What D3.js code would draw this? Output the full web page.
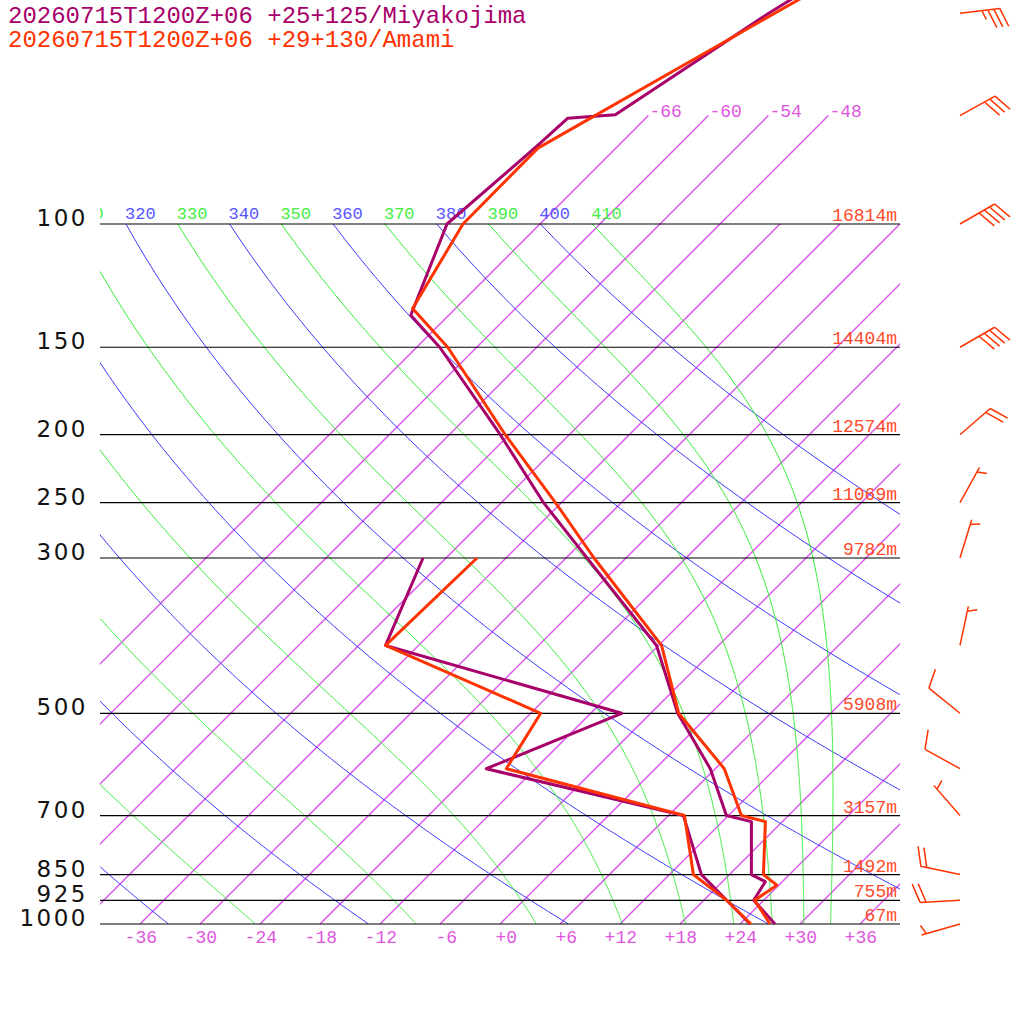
<!DOCTYPE html>
<html><head><meta charset="utf-8">
<script src="https://cdn.jsdelivr.net/npm/d3@7"></script>
<style>body{margin:0;background:#fff}svg{display:block}</style>
</head><body>
<svg id="c" width="1024" height="1024"></svg>
<script>
// ---------- data ----------
const titles = ["20260715T1200Z+06 +25+125/Miyakojima", "20260715T1200Z+06 +29+130/Amami"];
const pressureLevels = [1000, 925, 850, 700, 500, 300, 250, 200, 150, 100];
const pressureLabels = ["1000", "925", "850", "700", "500", "300", "250", "200", "150", "100"];
const heightLabels = ["67m", "755m", "1492m", "3157m", "5908m", "9782m", "11069m", "12574m", "14404m", "16814m"];
const isotherms = [-66, -60, -54, -48, -42, -36, -30, -24, -18, -12, -6, 0, 6, 12, 18, 24, 30, 36];
const upperIsotherms = [-66, -60, -54, -48];
const bottomTicks = [-36, -30, -24, -18, -12, -6, 0, 6, 12, 18, 24, 30, 36];
const dryThetas = [240, 260, 280, 300, 320, 340, 360, 380, 400];
const moistThetas = [250, 270, 290, 310, 330, 350, 370, 390, 410];

// Miyakojima (pressure hPa, temperature C)
const miyakoTemp = [[1000,27.5],[925,23.0],[870,22.3],[850,20.2],[714,14.9],[700,11.8],[600,5.5],[500,-3.3],[400,-12.2],[300,-27.9],[250,-37.8],[200,-48.9],[150,-63.7],[135,-69.8],[100,-75.3],[77.4,-74.1],[70.6,-73.8],[69.8,-69.4],[50,-64.2],[30,-54.6]];
const miyakoDew = [[1000,25.0],[925,20.3],[850,15.2],[700,7.5],[600,-16.9],[500,-8.9],[400,-39.3],[300,-44.3]];
// Amami
const amamiTemp = [[1000,27.0],[925,23.1],[880,23.8],[850,21.4],[714,16.3],[700,13.3],[600,6.9],[500,-3.2],[400,-11.7],[300,-27.2],[250,-36.6],[200,-48.4],[150,-62.9],[132,-70.3],[100,-73.7],[77.9,-73.8],[50,-63.6],[30,-51.8]];
const amamiDew = [[1000,25.1],[925,20.3],[850,14.4],[700,7.6],[600,-14.9],[500,-17.0],[400,-39.3],[300,-38.9]];
// Amami winds (pressure, direction deg, speed)
const windP = [50, 70, 100, 150, 200, 250, 300, 400, 500, 600, 700, 850, 925, 1000];
const windDir = [83, 61, 60, 60, 49, 29, 17, 12, 309, 299, 319, 282, 267, 254];
const windSpd = [35, 30, 40, 40, 20, 5, 5, 5, 10, 10, 5, 20, 20, 5];

// ---------- colours ----------
const C_MIY = "#a8006a", C_AMA = "#ff3300", C_ISO = "#dd55ee", C_ISO_TXT = "#e055e0";
const C_DRY = "#3a3aff", C_DRY_TXT = "#5555ff", C_MOIST = "#33ee33", C_MOIST_TXT = "#44ee44";
const C_HGT = "#ff4a2a";
const MONO = "'Liberation Mono','DejaVu Sans Mono',monospace";

// ---------- scales ----------
const svg = d3.select("#c");
const yS = d3.scaleLog().domain([1000, 100]).range([924, 224]);
const xT = d3.scaleLinear().domain([-40, 40]).range([100, 900]);
const skX = (T, p) => xT(T) + (yS(1000) - yS(p));
const lineGen = d3.line().x(d => skX(d[1], d[0])).y(d => yS(d[0]));

const defs = svg.append("defs");
defs.append("clipPath").attr("id", "plotclip").append("rect").attr("x", 100).attr("y", 224).attr("width", 800).attr("height", 700);
defs.append("clipPath").attr("id", "labclip").append("rect").attr("x", 100).attr("y", 0).attr("width", 924).attr("height", 1024);

// isotherms
const isoG = svg.append("g").attr("clip-path", "url(#plotclip)");
isoG.selectAll("line.iso").data(isotherms).join("line").attr("class", "iso")
  .attr("x1", T => skX(T, 1000)).attr("y1", yS(1000))
  .attr("x2", T => skX(T, 100)).attr("y2", yS(100))
  .attr("stroke", C_ISO).attr("stroke-width", 1.5);
const isoUpG = svg.append("g");
isoUpG.selectAll("line.isoup").data(upperIsotherms).join("line").attr("class", "isoup")
  .attr("x1", T => skX(T, 100)).attr("y1", yS(100))
  .attr("x2", T => skX(T, 70)).attr("y2", yS(70))
  .attr("stroke", C_ISO).attr("stroke-width", 1.5);
isoUpG.selectAll("text.isouptxt").data(upperIsotherms).join("text").attr("class", "isouptxt")
  .attr("x", T => skX(T, 70) + 1).attr("y", yS(70) + 1)
  .attr("font-family", MONO).attr("font-size", 18).attr("fill", C_ISO_TXT)
  .text(T => (T > 0 ? "+" : "") + T);

// adiabats
const K = 0.2857;
const pSamples = d3.range(100, 1001, 5);
function dryPts(th) { return pSamples.map(p => [p, th * Math.pow(p / 1000, K) - 273.15]); }
function dTdp(p, T) {
  const Rd = 287.04, Cp = 1004.6, Lv = 2.501e6, eps = 0.622;
  const es = 6.112 * Math.exp(17.67 * (T - 273.15) / (T - 29.65));
  const rs = eps * es / (p - es);
  return (Rd * T + Lv * rs) / (Cp + Lv * Lv * rs * eps / (Rd * T * T)) / p;
}
function moistPts(th) {
  let T = th * Math.pow(0.1, K), p = 100; const h = 2; const out = [[p, T - 273.15]];
  while (p < 1000 - 1e-9) {
    const k1 = dTdp(p, T), k2 = dTdp(p + h / 2, T + h / 2 * k1), k3 = dTdp(p + h / 2, T + h / 2 * k2), k4 = dTdp(p + h, T + h * k3);
    T += h / 6 * (k1 + 2 * k2 + 2 * k3 + k4); p += h; out.push([p, T - 273.15]);
  }
  return out;
}
const adG = svg.append("g").attr("clip-path", "url(#plotclip)");
adG.selectAll("path.dry").data(dryThetas).join("path").attr("class", "dry")
  .attr("d", th => lineGen(dryPts(th))).attr("fill", "none").attr("stroke", C_DRY).attr("stroke-width", 1);
adG.selectAll("path.moist").data(moistThetas).join("path").attr("class", "moist")
  .attr("d", th => lineGen(moistPts(th))).attr("fill", "none").attr("stroke", C_MOIST).attr("stroke-width", 1);

// adiabat labels (clipped at the left edge of the plot)
const labG = svg.append("g").attr("clip-path", "url(#labclip)");
const thetaLabels = dryThetas.map(t => ({t, c: C_DRY_TXT})).concat(moistThetas.map(t => ({t, c: C_MOIST_TXT})))
  .filter(d => skX(d.t * Math.pow(0.1, K) - 273.15, 100) > 60);
labG.selectAll("text.th").data(thetaLabels).join("text").attr("class", "th")
  .attr("x", d => skX(d.t * Math.pow(0.1, K) - 273.15, 100) - 1).attr("y", yS(100) - 5)
  .attr("font-family", MONO).attr("font-size", 17).attr("fill", d => d.c).text(d => d.t);

// isobars and labels
const isoB = svg.append("g");
isoB.selectAll("line.isobar").data(pressureLevels).join("line").attr("class", "isobar")
  .attr("x1", 100).attr("x2", 900).attr("y1", p => yS(p)).attr("y2", p => yS(p))
  .attr("stroke", "#000").attr("stroke-width", 1.2);
isoB.selectAll("text.plab").data(pressureLevels).join("text").attr("class", "plab")
  .attr("x", 88).attr("y", p => yS(p) + 2).attr("text-anchor", "end")
  .attr("font-family", "'DejaVu Sans',sans-serif").attr("font-size", 23).attr("letter-spacing", 2.5).attr("fill", "#111")
  .text((p, i) => pressureLabels[i]);
isoB.selectAll("text.hlab").data(pressureLevels).join("text").attr("class", "hlab")
  .attr("x", 897).attr("y", p => yS(p) - 3).attr("text-anchor", "end")
  .attr("font-family", MONO).attr("font-size", 18).attr("fill", C_HGT)
  .text((p, i) => heightLabels[i]);
isoB.selectAll("text.tlab").data(bottomTicks).join("text").attr("class", "tlab")
  .attr("x", T => xT(T) + 17).attr("y", 943).attr("text-anchor", "end")
  .attr("font-family", MONO).attr("font-size", 18).attr("fill", C_ISO_TXT)
  .text(T => (T >= 0 ? "+" : "") + T);

// profiles
const profG = svg.append("g");
function prof(data, col) {
  profG.append("path").attr("d", lineGen(data)).attr("fill", "none").attr("stroke", col)
    .attr("stroke-width", 3).attr("stroke-linejoin", "round");
}
prof(miyakoDew, C_MIY); prof(miyakoTemp, C_MIY);
prof(amamiDew, C_AMA); prof(amamiTemp, C_AMA);

// titles
svg.append("g").selectAll("text.title").data(titles).join("text").attr("class", "title")
  .attr("x", 8).attr("y", (d, i) => 23 + i * 24)
  .attr("font-family", MONO).attr("font-size", 24).attr("fill", (d, i) => i ? C_AMA : C_MIY).text(d => d);

// wind barbs
const wG = svg.append("g");
windP.forEach((p, i) => {
  const ax = 960, ay = yS(p), r = windDir[i] * Math.PI / 180;
  const ux = Math.sin(r), uy = -Math.cos(r), L = 40;
  const ex = ax + ux * L, ey = ay + uy * L;
  let d = `M${ax},${ay}L${ex},${ey}`;
  const a = Math.atan2(uy, ux) + 70 * Math.PI / 180, bx = Math.cos(a), by = Math.sin(a);
  const n10 = Math.floor(windSpd[i] / 10), n5 = (windSpd[i] % 10) >= 5 ? 1 : 0;
  let pos = (n10 === 0 && n5) ? 5 : 0;
  for (let k = 0; k < n10; k++) {
    const x0 = ex - ux * pos, y0 = ey - uy * pos;
    d += `M${x0},${y0}L${x0 + bx * 20},${y0 + by * 20}`; pos += 6;
  }
  if (n5) {
    const x0 = ex - ux * pos, y0 = ey - uy * pos;
    d += `M${x0},${y0}L${x0 + bx * 10},${y0 + by * 10}`;
  }
  wG.append("path").attr("d", d).attr("fill", "none").attr("stroke", C_AMA).attr("stroke-width", 1.5);
});
</script>
</body></html>
